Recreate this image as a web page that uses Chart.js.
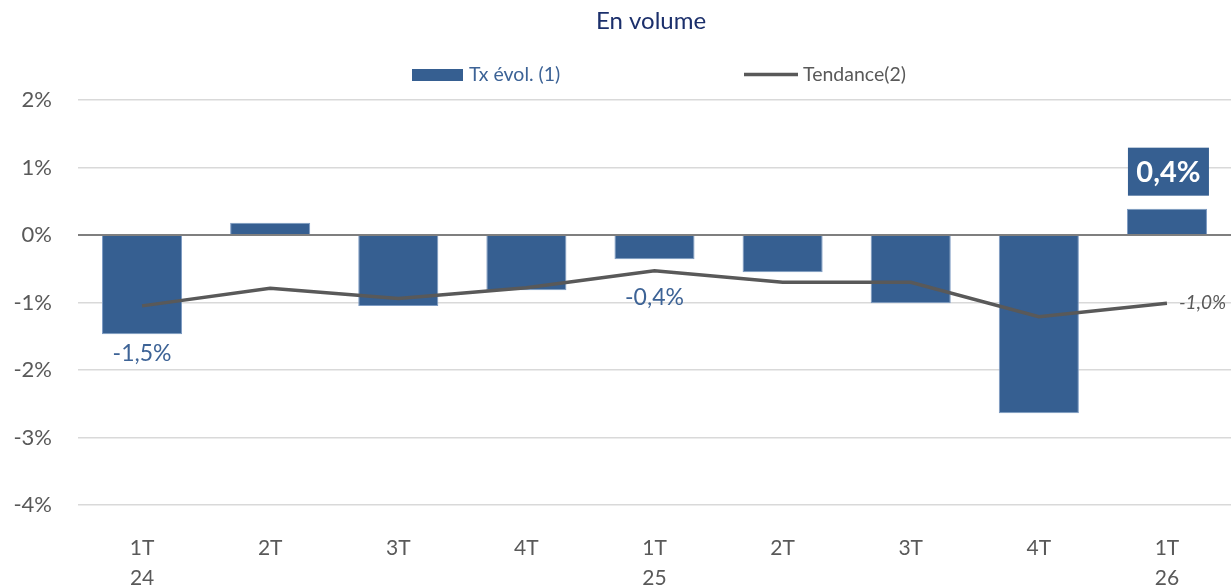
<!DOCTYPE html>
<html>
<head>
<meta charset="utf-8">
<script src="https://cdn.jsdelivr.net/npm/chart.js@4.4.1/dist/chart.umd.min.js"></script>
<style>
  html, body { margin: 0; padding: 0; background: #ffffff; }
  #wrap { position: relative; width: 1231px; height: 585px; }
</style>
</head>
<body>
<div id="wrap"><canvas id="c" width="1231" height="585"></canvas></div>
<script>
// ---- Data ----
const titleText = 'En volume';
const quarters = ['1T', '2T', '3T', '4T', '1T', '2T', '3T', '4T', '1T'];
const years    = ['24', '', '', '', '25', '', '', '', '26'];
const barName  = 'Tx évol. (1)';
const lineName = 'Tendance(2)';
const barValues  = [-1.47, 0.18, -1.05, -0.82, -0.36, -0.55, -1.01, -2.64, 0.39];
const lineValues = [-1.05, -0.79, -0.94, -0.78, -0.53, -0.70, -0.70, -1.21, -1.01];
const yTicks = [-4, -3, -2, -1, 0, 1, 2];
const barLabelIdx  = [0, 4, 8];
const lineLabelIdx = [8];

const FONT = 'Lato, "Open Sans", sans-serif';
const BLUE = '#365F91';
const GREY = '#595959';

function fmt(v) { return v.toFixed(1).replace('.', ',') + '%'; }

const labels = quarters.map((q, i) => [q, years[i]]);

const annotPlugin = {
  id: 'annot',
  afterDatasetsDraw(chart) {
    const ctx = chart.ctx;
    const barMeta = chart.getDatasetMeta(0);
    const lineMeta = chart.getDatasetMeta(1);
    const extraOffset = {0: 19, 4: 38};
    ctx.save();
    barLabelIdx.forEach(i => {
      const el = barMeta.data[i];
      const v = barValues[i];
      const txt = fmt(v);
      if (v >= 0) {
        const bw = 81, bh = 48;
        const cx = el.x + 1.5;
        const bottom = el.y - 13;
        ctx.fillStyle = BLUE;
        ctx.fillRect(cx - bw / 2, bottom - bh, bw, bh);
        ctx.fillStyle = '#ffffff';
        ctx.font = 'bold 29px ' + FONT;
        ctx.textAlign = 'center';
        ctx.textBaseline = 'middle';
        ctx.fillText(txt, cx, bottom - bh / 2 + 1);
      } else {
        ctx.fillStyle = '#3D6396';
        ctx.font = '23px ' + FONT;
        ctx.textAlign = 'center';
        ctx.textBaseline = 'middle';
        ctx.fillText(txt, el.x, el.y + (extraOffset[i] || 19));
      }
    });
    lineLabelIdx.forEach(i => {
      const pt = lineMeta.data[i];
      ctx.fillStyle = GREY;
      ctx.font = 'italic 19px ' + FONT;
      ctx.textAlign = 'left';
      ctx.textBaseline = 'middle';
      ctx.fillText(fmt(lineValues[i]), pt.x + 12, pt.y);
    });
    ctx.restore();
  },
  afterDraw(chart) {
    const ctx = chart.ctx;
    ctx.save();
    ctx.fillStyle = '#1B2F6B';
    ctx.font = '24px ' + FONT;
    ctx.textAlign = 'center';
    ctx.textBaseline = 'middle';
    ctx.fillText(titleText, 651, 21);
    ctx.font = '19.5px ' + FONT;
    ctx.textAlign = 'left';
    ctx.fillStyle = BLUE;
    ctx.fillRect(412, 69, 51, 12);
    ctx.fillStyle = '#3D6396';
    ctx.fillText(barName, 469, 75);
    ctx.strokeStyle = GREY;
    ctx.lineWidth = 3.5;
    ctx.beginPath();
    ctx.moveTo(744, 74.5);
    ctx.lineTo(798, 74.5);
    ctx.stroke();
    ctx.fillStyle = GREY;
    ctx.fillText(lineName, 803, 75);
    ctx.restore();
  }
};

new Chart(document.getElementById('c'), {
  type: 'bar',
  data: {
    labels: labels,
    datasets: [
      {
        type: 'bar',
        label: barName,
        data: barValues,
        backgroundColor: BLUE,
        borderColor: '#7C9AC2',
        borderWidth: 1,
        barPercentage: 0.625,
        categoryPercentage: 1.0,
        order: 1
      },
      {
        type: 'line',
        label: lineName,
        data: lineValues,
        borderColor: GREY,
        borderWidth: 3.5,
        pointRadius: 0,
        tension: 0,
        fill: false,
        order: 0
      }
    ]
  },
  options: {
    responsive: false,
    animation: false,
    devicePixelRatio: 1,
    layout: { padding: { top: 100, left: 0, right: 0, bottom: 0 } },
    plugins: {
      legend: { display: false },
      title: { display: false },
      tooltip: { enabled: false }
    },
    scales: {
      x: {
        grid: { display: false },
        border: { display: false },
        ticks: {
          color: GREY,
          font: { family: FONT, size: 21, lineHeight: 1.4 },
          padding: 21,
          maxRotation: 0,
          autoSkip: false
        },
        afterFit(scale) { scale.height = 80; }
      },
      y: {
        min: -4,
        max: 2,
        afterBuildTicks(scale) { scale.ticks = yTicks.map(v => ({ value: v })); },
        grid: {
          drawTicks: false,
          color: c => (c.tick && c.tick.value === 0) ? '#7F7F7F' : '#D9D9D9',
          lineWidth: c => (c.tick && c.tick.value === 0) ? 2 : 1.5
        },
        border: { display: false },
        ticks: {
          color: GREY,
          font: { family: FONT, size: 22 },
          padding: 26,
          callback: v => v + '%'
        },
        afterFit(scale) { scale.width = 78; }
      }
    }
  },
  plugins: [annotPlugin]
});
</script>
</body>
</html>
